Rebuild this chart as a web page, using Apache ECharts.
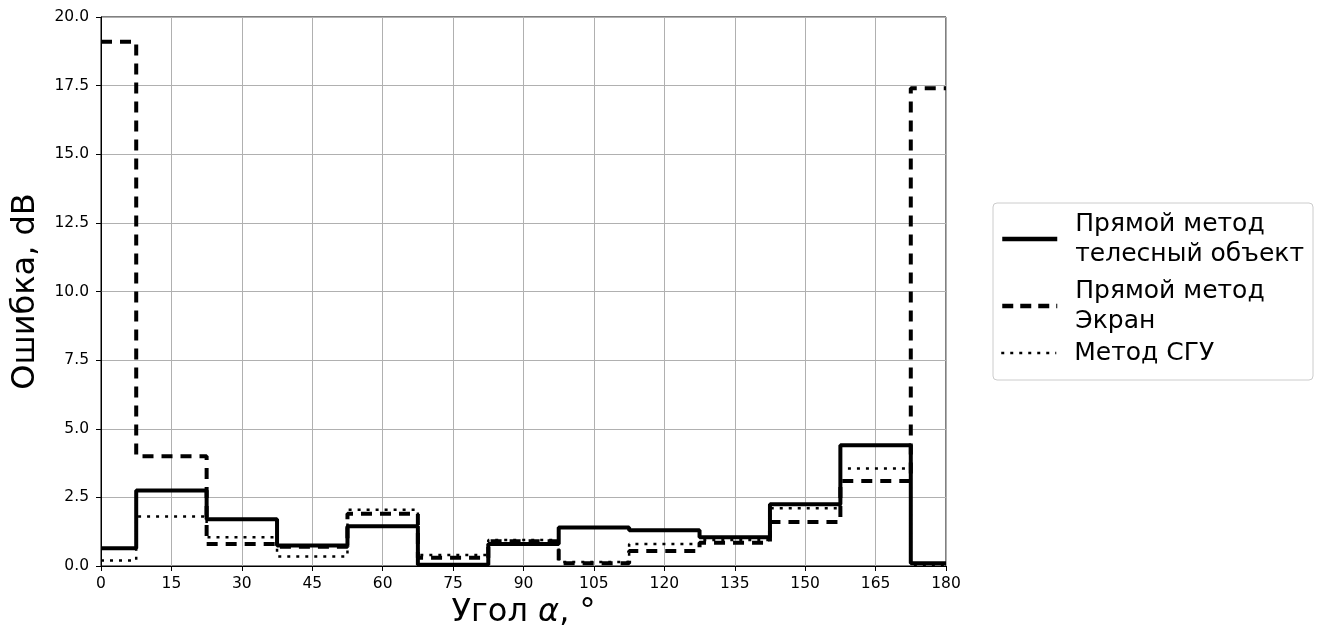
<!DOCTYPE html>
<html>
<head>
<meta charset="utf-8">
<script src="https://cdn.jsdelivr.net/npm/echarts@6/dist/echarts.min.js"></script>
<style>
html,body{margin:0;padding:0;background:#fff;}
#chart{width:1324px;height:634px;}
</style>
</head>
<body>
<div id="chart"></div>
<script>
// angles (bin centres), step plot drawn as steps-mid
var angles = [0, 15, 30, 45, 60, 75, 90, 105, 120, 135, 150, 165, 180];
var yTicks = [0, 2.5, 5, 7.5, 10, 12.5, 15, 17.5, 20];

var seriesNames = ['Прямой метод\nтелесный объект', 'Прямой метод\nЭкран', 'Метод СГУ'];
var solidVals  = [0.65, 2.75, 1.7, 0.75, 1.45, 0.05, 0.8, 1.4, 1.3, 1.05, 2.25, 4.4, 0.1];
var dashedVals = [19.1, 4.0, 0.8, 0.7, 1.9, 0.3, 0.9, 0.1, 0.55, 0.85, 1.6, 3.1, 17.4];
var dottedVals = [0.2, 1.8, 1.05, 0.35, 2.05, 0.4, 0.95, 0.15, 0.8, 0.95, 2.1, 3.55, 0.05];

function pairs(vals){
	var out = [];
	for(var i=0;i<angles.length;i++){
		out.push([angles[i], vals[i]]);
	}
	return out;
}

function mkSeries(name, vals, width, type){
	return {
		name: name,
		type: 'line',
		step: 'middle',
		symbol: 'none',
		data: pairs(vals),
		color: '#000',
		lineStyle: {color:'#000', width: width, type: type, cap: 'butt'},
		animation: false
	};
}

function mkLegend(name, top, width, type){
	return {
		data: [name],
		left: 1000,
		top: top,
		orient: 'vertical',
		padding: 0,
		itemWidth: 55,
		itemHeight: 14,
		itemStyle: {opacity: 0, borderWidth: 0},
		lineStyle: {width: width, type: type, color: '#000', cap: 'butt'},
		textStyle: {fontSize: 25, lineHeight: 30, color:'#000', fontFamily:'DejaVu Sans', padding:[0,0,0,13]}
	};
}

var chart = echarts.init(document.getElementById('chart'));

var option = {
	backgroundColor: '#fff',
	textStyle: {fontFamily: 'DejaVu Sans'},
	animation: false,
	grid: {
		left: 101, right: 378, top: 17, bottom: 68,
		show: true, borderColor: '#000', borderWidth: 1
	},
	graphic: [{
		type: 'rect',
		shape: {x: 993, y: 203, width: 320, height: 177, r: 4},
		style: {fill: '#fff', stroke: '#ccc', lineWidth: 1},
		z: 0
	}],
	legend: [
		mkLegend(seriesNames[0], 209, 4.5, 'solid'),
		mkLegend(seriesNames[1], 276, 4.5, [11, 7]),
		mkLegend(seriesNames[2], 338, 2.5, [3, 6])
	],
	xAxis: {
		type: 'value',
		min: 0, max: 180, interval: 15,
		name: 'Угол {a|α}, °',
		nameLocation: 'middle',
		nameGap: 31,
		nameTextStyle: {
			fontSize: 32, color: '#000',
			rich: {a: {fontSize: 32, fontStyle: 'italic', fontFamily: 'DejaVu Sans'}}
		},
		axisLine: {show: true, onZero: false, lineStyle: {color:'#000', width:1}},
		axisTick: {show: true, length: 5, lineStyle: {color:'#000'}},
		axisLabel: {fontSize: 15.5, color: '#000', margin: 10},
		splitLine: {show: true, lineStyle: {color:'#b0b0b0', width:1}}
	},
	yAxis: {
		type: 'value',
		min: yTicks[0], max: yTicks[yTicks.length-1], interval: 2.5,
		name: 'Ошибка, dB',
		nameLocation: 'middle',
		nameGap: 59,
		nameTextStyle: {fontSize: 32, color: '#000'},
		axisLine: {show: true, lineStyle: {color:'#000', width:1}},
		axisTick: {show: true, length: 5, lineStyle: {color:'#000'}},
		axisLabel: {fontSize: 15.5, color: '#000', margin: 12, formatter: function(v){ return v.toFixed(1); }},
		splitLine: {show: true, lineStyle: {color:'#b0b0b0', width:1}}
	},
	series: [
		mkSeries(seriesNames[0], solidVals, 4, 'solid'),
		mkSeries(seriesNames[1], dashedVals, 4, [11, 8]),
		mkSeries(seriesNames[2], dottedVals, 2.5, [3, 6])
	]
};

chart.setOption(option);
</script>
</body>
</html>
